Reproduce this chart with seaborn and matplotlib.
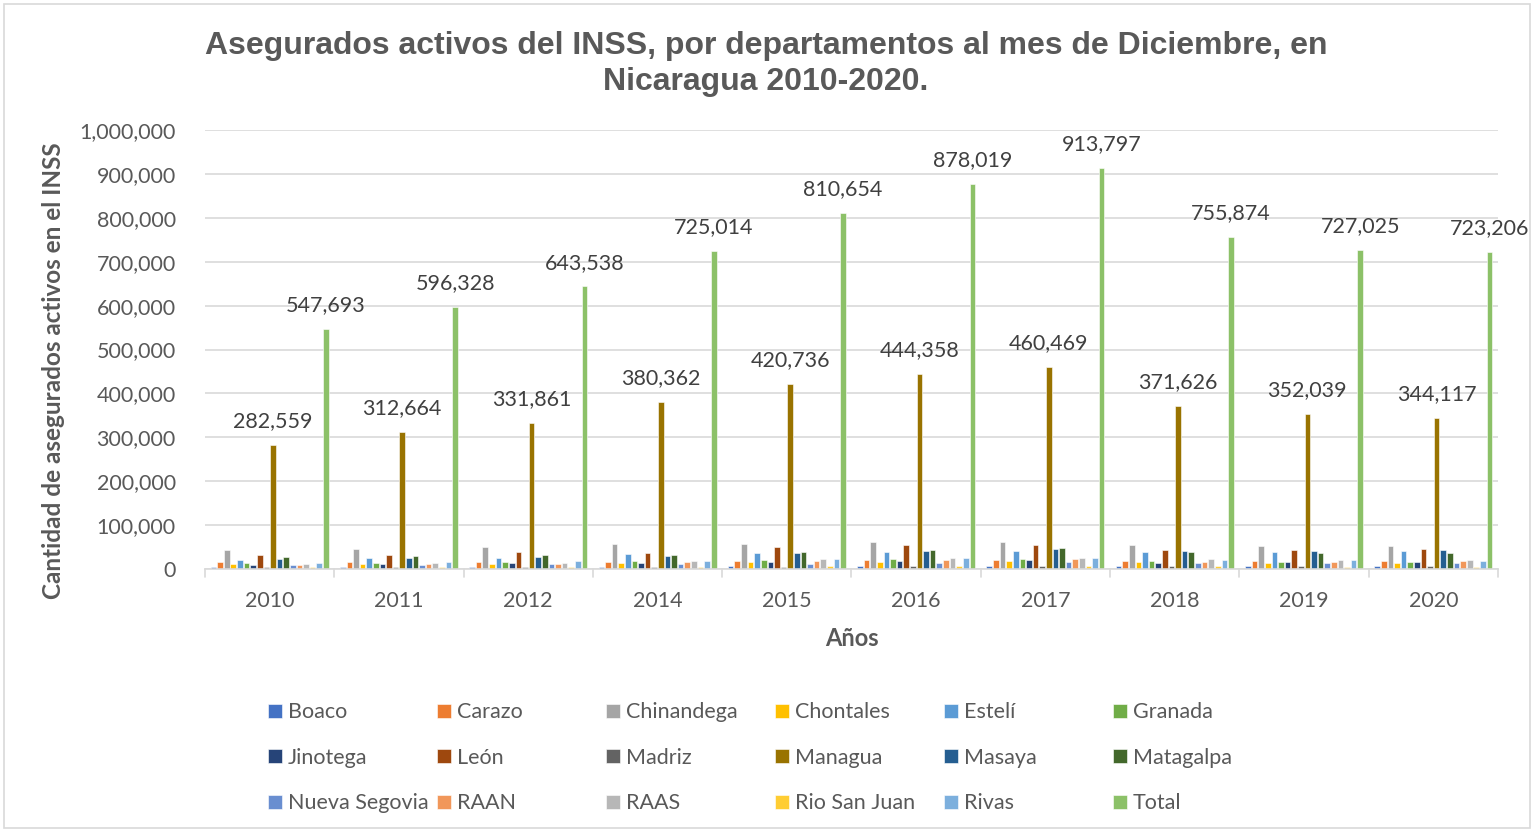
import numpy as np
import pandas as pd
import matplotlib
matplotlib.use("Agg")
import matplotlib.pyplot as plt
import seaborn as sns

anios = ["2010", "2011", "2012", "2014", "2015", "2016", "2017", "2018", "2019", "2020"]

departamentos = ["Boaco", "Carazo", "Chinandega", "Chontales", "Estelí", "Granada",
                 "Jinotega", "León", "Madriz", "Managua", "Masaya", "Matagalpa",
                 "Nueva Segovia", "RAAN", "RAAS", "Rio San Juan", "Rivas", "Total"]

boaco = [4500, 4500, 4500, 4500, 6000, 7600, 7600, 7000, 7000, 7000]
carazo = [16000, 16000, 16000, 16000, 18000, 20500, 20500, 18000, 19000, 18000]
chinandega = [43000, 45500, 50000, 57700, 56000, 60700, 62000, 54700, 52400, 52400]
chontales = [11000, 11000, 11000, 13700, 15000, 16700, 17500, 16000, 14500, 14500]
esteli = [20500, 24000, 26000, 34000, 36500, 38700, 41700, 38700, 38700, 41000]
granada = [13700, 14500, 15000, 18000, 20500, 22800, 23500, 17500, 16000, 16000]
jinotega = [9000, 11000, 13700, 13700, 16000, 18000, 20000, 14500, 16000, 16000]
leon = [32000, 33000, 39000, 35500, 49000, 54700, 54000, 43300, 42500, 46000]
madriz = [4500, 4500, 4500, 4500, 5000, 7600, 7600, 7000, 7000, 7000]
managua = [282559, 312664, 331861, 380362, 420736, 444358, 460469, 371626, 352039, 344117]
masaya = [23000, 24000, 27000, 30400, 36500, 41000, 44800, 41700, 41000, 43300]
matagalpa = [28000, 29500, 33000, 33000, 38700, 44000, 47000, 38000, 36500, 36500]
nueva_segovia = [9000, 9000, 10500, 10500, 12000, 13700, 15000, 13700, 13700, 13700]
raan = [9000, 11000, 11000, 16000, 17500, 20000, 22800, 16700, 16700, 17500]
raas = [11000, 13700, 13700, 18000, 22800, 24000, 25000, 22000, 20500, 20500]
rio_san_juan = [4500, 4500, 4500, 4500, 6000, 7600, 7000, 7000, 5000, 4500]
rivas = [13700, 16000, 17500, 18000, 23500, 25000, 25800, 20000, 20000, 18000]
total = [547693, 596328, 643538, 725014, 810654, 878019, 913797, 755874, 727025, 723206]

series = [boaco, carazo, chinandega, chontales, esteli, granada, jinotega, leon, madriz,
          managua, masaya, matagalpa, nueva_segovia, raan, raas, rio_san_juan, rivas, total]

colores = ["#4472C4", "#ED7D31", "#A5A5A5", "#FFC000", "#5B9BD5", "#70AD47",
           "#264478", "#9E480E", "#636363", "#997300", "#255E91", "#43682B",
           "#698ED0", "#F1975A", "#B7B7B7", "#FFCD33", "#7CAFDD", "#8CC168"]

filas = []
for dep, valores in zip(departamentos, series):
    for anio, v in zip(anios, valores):
        filas.append({"Año": anio, "Departamento": dep, "Asegurados": v})
df = pd.DataFrame(filas)

sns.set_theme(style="white")
plt.rcParams["font.family"] = ["Lato", "DejaVu Sans"]
gris = "#595959"

fig = plt.figure(figsize=(15.35, 8.3), dpi=100)
ax = fig.add_axes([205 / 1535, 1 - 569 / 830, (1498 - 205) / 1535, (569 - 130) / 830])

sns.barplot(data=df, x="Año", y="Asegurados", hue="Departamento", order=anios,
            hue_order=departamentos, palette=colores, saturation=1, width=0.92, gap=0.15,
            edgecolor="white", linewidth=0.4, ax=ax)

ax.set_ylim(0, 1000000)
ax.set_xlim(-0.5, len(anios) - 0.5)
ax.set_yticks(np.arange(0, 1000001, 100000))
ax.yaxis.set_major_formatter(matplotlib.ticker.FuncFormatter(lambda v, p: f"{v:,.0f}"))
ax.yaxis.grid(True, color="#D9D9D9", linewidth=1.2)
ax.set_axisbelow(True)
for s in ["top", "right", "left"]:
    ax.spines[s].set_visible(False)
ax.spines["bottom"].set_color("#D9D9D9")
ax.spines["bottom"].set_linewidth(1.2)
ax.tick_params(axis="y", labelsize=15.5, labelcolor=gris, length=0, pad=21)
ax.tick_params(axis="x", labelsize=15.5, labelcolor=gris, length=0, pad=16)
for i in range(len(anios) + 1):
    ax.plot([i - 0.5, i - 0.5], [0, -0.018], transform=ax.get_xaxis_transform(),
            color="#D9D9D9", linewidth=1.2, clip_on=False)

ax.set_xlabel("Años", fontsize=17, fontweight="bold", color=gris, labelpad=11)
ax.set_ylabel("Cantidad de asegurados activos en el INSS", fontsize=17.5, fontweight="bold",
              color=gris)
ax.yaxis.set_label_coords(-0.108, 0.451)

for idx in [departamentos.index("Managua"), departamentos.index("Total")]:
    ax.bar_label(ax.containers[idx], labels=[f"{v:,.0f}" for v in series[idx]],
                 fontsize=15.5, color="#404040", padding=10)

fig.suptitle("Asegurados activos del INSS, por departamentos al mes de Diciembre, en\nNicaragua 2010-2020.",
             x=766 / 1535, y=1 - 31 / 830, fontsize=23, fontweight="bold", color=gris,
             family="Liberation Sans", linespacing=1.25)

# leyenda: 6 columnas de ancho fijo, ordenadas por filas
handles, labels = ax.get_legend_handles_labels()
ax.legend_.remove()
for c in range(6):
    idxs = [c, c + 6, c + 12]
    fig.legend([handles[i] for i in idxs], [labels[i] for i in idxs], loc="upper left",
               bbox_to_anchor=((262 + 169 * c) / 1535, 1 - 696 / 830), ncol=1,
               frameon=False, fontsize=15.5, labelcolor=gris, handlelength=0.65,
               handleheight=0.65, handletextpad=0.25, labelspacing=1.18,
               borderaxespad=0, borderpad=0.3)

fig.patches.append(matplotlib.patches.Rectangle((4 / 1535, 2 / 830), 1526 / 1535, 824 / 830,
                   transform=fig.transFigure, fill=False, edgecolor="#D9D9D9", linewidth=1.2))

fig.savefig("out.png", dpi=100, facecolor="white")
